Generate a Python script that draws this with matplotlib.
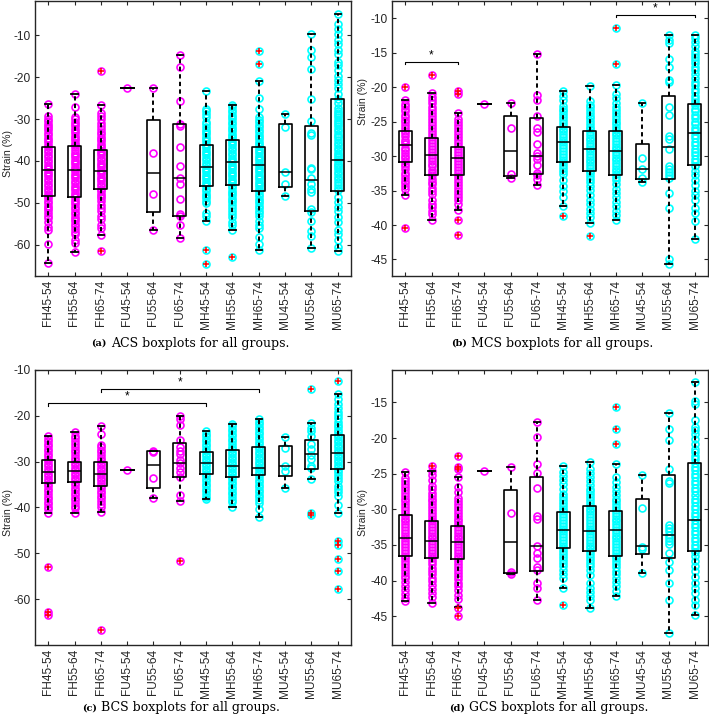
import numpy as np
import matplotlib
matplotlib.use('Agg')
import matplotlib.pyplot as plt

plt.rcParams['axes.unicode_minus'] = False
plt.rcParams['font.family'] = ['Liberation Sans', 'DejaVu Sans']

GROUPS = ['FH45-54', 'FH55-64', 'FH65-74', 'FU45-54', 'FU55-64', 'FU65-74',
          'MH45-54', 'MH55-64', 'MH65-74', 'MU45-54', 'MU55-64', 'MU65-74']

# ---------------- ACS ----------------
ACS_PTS = [
    [-26.3, -29.3, -29.9, -30.4, -31.1, -31.6, -32.2, -32.7, -33.4, -33.9, -34.5, -35.1, -35.6, -36.3,
     -36.8, -37.4, -37.9, -38.6, -39.1, -39.7, -40.2, -40.9, -41.4, -42.0, -42.6, -43.1, -43.7, -44.3,
     -44.8, -45.5, -46.0, -46.6, -47.1, -47.8, -48.3, -48.9, -49.5, -50.0, -50.7, -51.2, -51.8, -52.5,
     -53.1, -53.6, -54.6, -55.9, -56.6, -59.8, -64.4],
    [-23.9, -27.1, -29.5, -30.0, -30.6, -31.2, -31.7, -32.3, -32.9, -33.4, -34.0, -34.6, -35.1, -35.7,
     -36.3, -36.8, -37.4, -38.0, -38.5, -39.1, -39.7, -40.2, -40.8, -41.4, -41.9, -42.5, -43.1, -43.6,
     -44.2, -44.8, -45.3, -45.9, -46.5, -47.0, -47.6, -48.2, -48.7, -49.3, -49.9, -50.4, -51.0, -51.6,
     -52.1, -52.7, -53.3, -53.8, -54.4, -55.0, -55.6, -56.3, -57.0, -57.5, -58.9, -59.5, -61.8],
    [-18.5, -26.6, -28.6, -29.3, -30.1, -30.9, -31.6, -32.4, -33.0, -33.6, -34.2, -34.7, -35.3, -35.9,
     -36.4, -37.0, -37.6, -38.1, -38.7, -39.3, -39.8, -40.4, -41.0, -41.5, -42.1, -42.7, -43.2, -43.8,
     -44.4, -44.9, -45.5, -46.1, -46.6, -47.2, -47.8, -48.3, -48.9, -49.6, -50.6, -51.3, -52.0, -53.1,
     -53.8, -55.3, -56.1, -57.6, -61.5],
    [-22.7],
    [-22.6, -38.0, -47.8, -56.4],
    [-14.6, -17.6, -25.7, -31.2, -31.6, -36.8, -41.2, -44.1, -45.5, -49.2, -52.7, -53.2, -55.2, -58.4],
    [-23.4, -27.5, -28.1, -28.7, -29.6, -30.6, -31.3, -31.9, -32.5, -33.1, -33.6, -34.2, -34.8, -35.3,
     -35.9, -36.5, -37.0, -37.6, -38.2, -38.7, -39.3, -39.9, -40.4, -41.0, -41.6, -42.1, -42.7, -43.3,
     -43.8, -44.4, -45.0, -45.5, -46.1, -46.7, -47.2, -47.8, -48.4, -48.9, -49.5, -50.1, -52.4, -53.1,
     -54.4, -61.3, -64.6],
    [-26.6, -27.2, -27.8, -28.4, -29.0, -29.5, -30.1, -30.7, -31.2, -31.8, -32.4, -32.9, -33.5, -34.1,
     -34.6, -35.2, -35.8, -36.3, -36.9, -37.5, -38.0, -38.6, -39.2, -39.7, -40.3, -40.9, -41.4, -42.0,
     -42.6, -43.1, -43.7, -44.3, -44.8, -45.4, -46.0, -46.5, -47.1, -47.7, -48.2, -48.8, -49.4, -49.9,
     -50.5, -51.2, -51.9, -52.6, -53.4, -54.6, -55.2, -56.4, -63.0],
    [-13.8, -16.8, -20.9, -25.0, -27.6, -29.5, -30.2, -30.8, -31.4, -32.0, -32.5, -33.1, -33.7, -34.2,
     -34.8, -35.4, -35.9, -36.5, -37.1, -37.6, -38.2, -38.8, -39.3, -39.9, -40.5, -41.0, -41.6, -42.2,
     -42.7, -43.3, -43.9, -44.4, -45.0, -45.6, -46.1, -46.7, -47.3, -47.8, -48.4, -49.0, -49.5, -50.1,
     -50.7, -51.2, -51.9, -52.5, -53.2, -54.3, -55.3, -56.0, -58.1, -59.9, -61.2],
    [-28.9, -31.9, -42.6, -45.5, -48.4],
    [-9.6, -13.5, -15.2, -18.0, -25.2, -30.5, -33.3, -33.8, -41.6, -42.0, -44.1, -45.6, -46.8, -47.5,
     -51.5, -52.3, -54.4, -56.7, -57.9, -60.7],
    [-4.8, -7.2, -8.6, -9.8, -11.0, -12.0, -13.6, -14.4, -16.4, -17.2, -18.2, -19.6, -20.7, -21.7,
     -22.7, -23.9, -25.3, -26.2, -27.3, -28.0, -28.5, -29.0, -29.5, -30.3, -30.7, -31.1, -31.7, -32.3,
     -32.9, -33.5, -34.0, -34.4, -35.1, -35.7, -36.3, -36.9, -37.5, -38.1, -38.7, -39.1, -39.5, -40.1,
     -40.7, -41.1, -41.5, -42.0, -42.6, -43.2, -43.8, -44.4, -45.0, -45.8, -46.4, -47.0, -48.6, -49.8,
     -51.0, -52.0, -53.4, -54.6, -56.6, -57.4, -59.0, -60.5, -61.5],
]
ACS_HI = [-26.3, -23.9, -26.6, -22.7, -22.6, -14.6, -23.4, -26.6, -20.9, -28.9, -9.6, -4.8]
ACS_Q3 = [-36.8, -36.4, -37.5, -22.7, -30.3, -31.3, -36.3, -34.9, -36.6, -31.1, -31.6, -25.3]
ACS_MED = [-42.1, -42.1, -42.5, -22.7, -42.9, -44.2, -41.5, -40.2, -41.0, -42.6, -44.5, -39.7]
ACS_Q1 = [-48.5, -48.7, -46.6, -22.7, -52.1, -53.2, -46.0, -45.8, -47.2, -46.3, -52.0, -47.2]
ACS_LO = [-64.4, -61.8, -57.6, -22.7, -56.4, -58.4, -54.4, -56.4, -61.2, -48.4, -60.7, -61.5]

# ---------------- MCS ----------------
MCS_PTS = [
    [-20.0, -21.9, -22.4, -22.7, -23.2, -23.5, -24.0, -24.3, -24.8, -25.1, -25.5, -25.9, -26.4, -26.7,
     -27.1, -27.6, -27.9, -28.3, -28.8, -29.1, -29.5, -30.0, -30.3, -30.7, -31.2, -31.5, -31.9, -32.4,
     -32.7, -33.1, -33.6, -33.9, -34.3, -34.8, -35.6, -40.4],
    [-18.2, -20.8, -21.4, -21.9, -22.3, -22.8, -23.3, -23.7, -24.2, -24.6, -25.0, -25.5, -25.9, -26.3,
     -26.8, -27.2, -27.6, -28.1, -28.5, -28.9, -29.4, -29.8, -30.2, -30.7, -31.1, -31.5, -32.0, -32.4,
     -32.8, -33.3, -33.7, -34.1, -34.6, -35.0, -35.5, -36.4, -36.9, -37.4, -37.9, -38.4, -39.3],
    [-20.6, -21.0, -23.8, -24.6, -25.1, -25.5, -25.9, -26.4, -26.8, -27.2, -27.7, -28.1, -28.5, -29.0,
     -29.4, -29.8, -30.3, -30.7, -31.1, -31.6, -32.0, -32.4, -32.9, -33.3, -33.7, -34.2, -34.6, -35.0,
     -35.5, -35.9, -36.4, -36.9, -37.8, -39.3, -41.4],
    [-22.4],
    [-22.3, -25.9, -32.6, -33.1],
    [-15.1, -21.1, -21.8, -24.1, -25.9, -26.5, -28.2, -29.6, -30.0, -30.4, -31.3, -32.5, -32.8, -33.3,
     -34.2],
    [-20.5, -21.2, -21.8, -22.7, -23.1, -23.5, -23.9, -24.3, -24.7, -25.2, -25.6, -26.0, -26.4, -26.8,
     -27.2, -27.6, -28.0, -28.4, -28.8, -29.2, -29.7, -30.1, -30.5, -30.9, -31.3, -31.7, -32.1, -32.6,
     -33.4, -34.4, -35.1, -35.9, -37.2, -38.7],
    [-19.8, -22.0, -22.5, -22.9, -23.3, -23.7, -24.1, -24.5, -24.9, -25.3, -25.7, -26.1, -26.5, -26.9,
     -27.3, -27.7, -28.1, -28.5, -28.9, -29.3, -29.7, -30.1, -30.5, -30.9, -31.3, -31.7, -32.1, -32.5,
     -32.9, -33.3, -33.8, -34.3, -34.9, -35.6, -36.3, -36.9, -37.6, -38.2, -38.8, -39.7, -41.6],
    [-11.4, -16.6, -19.7, -21.0, -21.6, -22.3, -22.8, -23.3, -23.8, -24.2, -24.6, -25.0, -25.4, -25.8,
     -26.2, -26.6, -27.0, -27.4, -27.8, -28.2, -28.6, -29.0, -29.4, -29.8, -30.2, -30.6, -31.0, -31.4,
     -31.8, -32.2, -32.6, -33.0, -33.5, -34.1, -34.8, -35.3, -35.9, -36.6, -37.3, -38.0, -38.6, -39.3],
    [-22.3, -30.3, -31.8, -33.1, -33.7],
    [-12.4, -13.1, -13.6, -15.9, -17.0, -18.9, -19.3, -22.9, -24.0, -27.1, -27.5, -28.9, -31.4, -31.8,
     -32.3, -32.7, -33.1, -35.3, -37.5, -44.9, -45.7],
    [-12.4, -12.9, -13.4, -14.0, -14.7, -15.1, -15.6, -16.0, -16.5, -17.0, -17.5, -18.1, -18.6, -19.2,
     -19.7, -20.2, -20.7, -21.2, -21.7, -22.2, -22.6, -23.1, -23.5, -24.0, -24.5, -25.0, -25.4, -25.9,
     -26.4, -26.9, -27.4, -27.9, -28.4, -28.9, -29.4, -29.9, -30.4, -30.9, -31.5, -32.1, -32.8, -33.5,
     -34.2, -35.0, -35.7, -36.3, -37.5, -38.2, -39.4, -42.1],
]
MCS_HI = [-21.9, -20.8, -23.8, -22.4, -22.3, -15.1, -20.5, -19.8, -19.7, -22.3, -12.4, -12.4]
MCS_Q3 = [-26.4, -27.3, -28.6, -22.4, -24.1, -24.5, -25.8, -26.3, -26.4, -28.3, -21.3, -22.4]
MCS_MED = [-28.4, -29.9, -30.3, -22.4, -29.2, -30.0, -27.9, -28.9, -29.3, -31.8, -28.6, -26.7]
MCS_Q1 = [-30.8, -32.8, -32.7, -22.4, -32.85, -32.65, -30.9, -32.2, -32.8, -33.3, -33.3, -31.3]
MCS_LO = [-35.6, -39.3, -37.8, -22.4, -33.1, -34.2, -37.2, -39.7, -39.3, -33.7, -45.7, -42.1]

# ---------------- BCS ----------------
BCS_PTS = [
    [-24.4, -25.0, -25.5, -26.1, -26.6, -27.2, -27.7, -28.3, -28.8, -29.4, -29.9, -30.5, -31.0, -31.6,
     -32.1, -32.7, -33.2, -33.8, -34.3, -34.9, -35.4, -36.0, -36.5, -37.1, -37.6, -38.2, -38.7, -39.3,
     -39.8, -40.4, -41.2, -53.0, -62.7, -63.4],
    [-23.6, -24.3, -24.9, -25.6, -26.2, -26.9, -27.4, -28.0, -28.5, -29.1, -29.6, -30.2, -30.7, -31.3,
     -31.8, -32.4, -32.9, -33.5, -34.0, -34.6, -35.1, -35.7, -36.2, -36.8, -37.3, -37.9, -38.4, -39.0,
     -39.6, -40.2, -41.2],
    [-22.3, -24.0, -26.4, -26.9, -27.5, -28.0, -28.6, -29.1, -29.7, -30.2, -30.8, -31.3, -31.9, -32.4,
     -33.0, -33.5, -34.1, -34.6, -35.2, -35.7, -36.3, -36.8, -37.4, -37.9, -38.5, -39.3, -40.0, -40.9,
     -66.8],
    [-31.9],
    [-27.6, -27.8, -33.6, -38.0],
    [-20.1, -20.6, -22.0, -25.2, -26.8, -27.6, -28.3, -29.7, -30.4, -31.3, -32.2, -33.3, -37.3, -38.6,
     -51.6],
    [-23.3, -23.9, -24.4, -25.0, -25.5, -26.1, -26.6, -27.2, -27.7, -28.3, -28.8, -29.4, -29.9, -30.5,
     -31.0, -31.6, -32.1, -32.7, -33.2, -33.8, -34.3, -34.9, -35.4, -36.0, -36.5, -37.1, -37.6, -38.2],
    [-21.7, -22.3, -22.8, -23.4, -23.9, -24.5, -25.0, -25.6, -26.1, -26.7, -27.2, -27.8, -28.3, -28.9,
     -29.4, -30.0, -30.5, -31.1, -31.6, -32.2, -32.7, -33.3, -33.8, -34.4, -34.9, -35.5, -36.0, -36.6,
     -37.1, -37.7, -38.3, -38.9, -39.9],
    [-20.7, -21.3, -21.8, -22.4, -22.9, -23.5, -24.0, -24.6, -25.1, -25.7, -26.2, -26.8, -27.3, -27.9,
     -28.4, -29.0, -29.5, -30.1, -30.6, -31.2, -31.7, -32.3, -32.8, -33.4, -33.9, -34.5, -35.0, -35.6,
     -36.1, -36.7, -37.2, -37.8, -38.4, -39.0, -40.4, -42.0],
    [-24.6, -27.1, -31.0, -32.1, -35.8],
    [-14.2, -21.6, -22.6, -23.3, -24.5, -26.1, -27.3, -28.6, -29.4, -30.9, -31.3, -33.8, -41.1, -41.7],
    [-12.4, -15.3, -16.4, -17.4, -18.3, -19.2, -19.8, -20.5, -21.3, -21.9, -22.4, -23.0, -23.5, -24.1,
     -24.6, -25.2, -25.7, -26.3, -26.8, -27.4, -27.9, -28.5, -29.0, -29.6, -30.1, -30.7, -31.2, -31.8,
     -32.3, -32.9, -33.5, -34.2, -35.4, -35.9, -36.6, -37.4, -39.5, -41.3, -47.4, -48.1, -51.2, -53.8,
     -57.7],
]
BCS_HI = [-24.4, -23.6, -22.3, -31.9, -27.6, -20.1, -23.3, -21.7, -20.7, -24.6, -21.6, -15.3]
BCS_Q3 = [-29.7, -30.05, -30.05, -31.9, -27.7, -25.9, -27.9, -27.45, -26.9, -26.6, -25.3, -24.2]
BCS_MED = [-32.3, -32.1, -32.7, -31.9, -30.7, -30.2, -30.35, -30.85, -31.4, -31.0, -28.3, -28.2]
BCS_Q1 = [-34.7, -34.5, -35.3, -31.9, -35.8, -33.4, -32.65, -33.45, -33.0, -33.05, -31.6, -31.7]
BCS_LO = [-41.2, -41.2, -40.9, -31.9, -38.0, -38.6, -38.2, -39.9, -42.0, -35.8, -33.8, -41.3]

# ---------------- GCS ----------------
GCS_PTS = [
    [-24.7, -25.6, -26.1, -26.5, -26.9, -27.3, -27.7, -28.1, -28.5, -28.9, -29.3, -29.7, -30.1, -30.5,
     -30.9, -31.3, -31.7, -32.1, -32.5, -32.9, -33.3, -33.7, -34.1, -34.5, -34.9, -35.3, -35.7, -36.1,
     -36.5, -36.9, -37.3, -37.7, -38.1, -38.5, -38.9, -39.3, -39.7, -40.2, -40.7, -41.3, -41.9, -42.4,
     -42.9],
    [-23.9, -24.6, -25.2, -25.9, -26.7, -27.2, -27.7, -28.1, -28.5, -28.9, -29.3, -29.7, -30.1, -30.5,
     -30.9, -31.3, -31.7, -32.1, -32.5, -32.9, -33.3, -33.7, -34.1, -34.5, -34.9, -35.3, -35.7, -36.1,
     -36.5, -36.9, -37.3, -37.7, -38.2, -38.6, -39.1, -39.6, -40.1, -40.6, -41.2, -41.7, -42.3, -43.2],
    [-22.5, -24.1, -24.4, -25.5, -26.9, -27.6, -28.4, -28.9, -29.3, -29.7, -30.1, -30.5, -30.9, -31.3,
     -31.7, -32.1, -32.5, -32.9, -33.3, -33.7, -34.1, -34.5, -34.9, -35.3, -35.7, -36.1, -36.5, -36.9,
     -37.3, -37.7, -38.1, -38.5, -38.9, -39.3, -39.8, -40.3, -40.8, -41.4, -42.0, -42.6, -43.8, -45.0],
    [-24.65],
    [-24.0, -30.5, -38.8, -39.1],
    [-17.7, -19.9, -23.7, -24.9, -27.0, -31.0, -31.4, -35.1, -36.1, -36.9, -38.1, -38.5, -40.3, -41.1,
     -42.8],
    [-23.9, -24.7, -25.3, -25.9, -26.5, -27.2, -27.8, -28.3, -28.7, -29.1, -29.5, -29.9, -30.3, -30.7,
     -31.1, -31.5, -31.9, -32.3, -32.7, -33.1, -33.5, -33.9, -34.3, -34.7, -35.1, -35.5, -35.9, -36.3,
     -36.7, -37.1, -37.5, -38.0, -38.5, -39.1, -39.7, -41.0, -43.4],
    [-23.4, -24.3, -24.9, -25.5, -26.1, -26.6, -27.1, -27.5, -27.9, -28.3, -28.7, -29.1, -29.5, -29.9,
     -30.3, -30.7, -31.1, -31.5, -31.9, -32.3, -32.7, -33.1, -33.5, -33.9, -34.3, -34.7, -35.1, -35.5,
     -35.9, -36.3, -36.7, -37.1, -37.5, -38.0, -38.5, -39.2, -40.3, -41.0, -41.6, -42.2, -42.8, -43.8],
    [-15.6, -18.7, -20.9, -23.6, -25.5, -26.2, -26.9, -27.5, -28.0, -28.5, -28.9, -29.3, -29.7, -30.1,
     -30.5, -30.9, -31.3, -31.7, -32.1, -32.5, -32.9, -33.3, -33.7, -34.1, -34.5, -34.9, -35.3, -35.7,
     -36.1, -36.5, -36.9, -37.3, -37.7, -38.1, -38.6, -39.1, -39.6, -40.2, -40.8, -41.5, -42.2],
    [-25.2, -29.8, -35.3, -35.6, -38.9],
    [-16.5, -18.7, -20.3, -24.4, -26.1, -26.3, -32.2, -32.6, -33.1, -33.6, -34.1, -34.5, -34.9, -36.2,
     -37.4, -38.5, -40.3, -42.8, -47.3],
    [-12.2, -14.8, -15.2, -17.5, -18.4, -18.9, -19.5, -20.2, -20.9, -21.5, -22.0, -22.5, -23.0, -23.5,
     -24.0, -24.5, -25.0, -25.5, -26.0, -26.5, -27.0, -27.5, -28.0, -28.5, -29.0, -29.5, -30.0, -30.5,
     -31.0, -31.5, -32.0, -32.5, -33.0, -33.5, -34.0, -34.5, -35.0, -35.5, -36.0, -36.6, -37.3, -38.0,
     -38.7, -39.5, -40.3, -41.0, -41.8, -42.7, -43.5, -44.9],
]
GCS_HI = [-24.7, -24.6, -25.5, -24.65, -24.0, -17.7, -23.9, -23.4, -23.6, -25.2, -16.5, -12.2]
GCS_Q3 = [-30.8, -31.7, -32.35, -24.65, -27.3, -25.4, -30.4, -29.6, -30.3, -28.6, -25.2, -23.5]
GCS_MED = [-34.0, -34.4, -34.55, -24.65, -34.65, -35.1, -32.9, -33.1, -32.9, -35.15, -33.65, -31.5]
GCS_Q1 = [-36.5, -36.85, -37.0, -24.65, -38.95, -38.6, -35.5, -35.85, -36.5, -36.3, -36.8, -35.9]
GCS_LO = [-42.9, -43.2, -43.75, -24.65, -39.1, -42.8, -41.0, -43.8, -42.2, -38.9, -47.3, -44.9]

# significance brackets: (first group, last group, height)
MCS_SIG = [(1, 3, -16.3), (9, 12, -9.5)]
BCS_SIG = [(1, 7, -17.25), (3, 9, -14.15)]

TXT = '#262626'
W, H = 709, 722


def draw_panel(ax, pts, lo, q1, med, q3, hi, ylim, yticks, sig, drop):
    pos = np.arange(1, len(GROUPS) + 1)
    for i, vals in enumerate(pts):
        col = '#ff00ff' if GROUPS[i][0] == 'F' else '#00ffff'
        ax.plot(np.full(len(vals), pos[i]), vals, 'o', mfc='none', mec=col,
                ms=5.0, mew=1.2, zorder=1)

    stats = []
    for i in range(len(GROUPS)):
        stats.append(dict(med=med[i], q1=q1[i], q3=q3[i],
                          whislo=lo[i], whishi=hi[i], fliers=[]))
    ax.bxp(stats, positions=pos, widths=0.5, capwidths=0.25, showfliers=False,
           manage_ticks=False, zorder=2,
           boxprops=dict(color='k', lw=1.2),
           whiskerprops=dict(color='k', lw=1.4, linestyle=(0, (2.2, 1.7))),
           capprops=dict(color='k', lw=1.3),
           medianprops=dict(color='k', lw=1.1))

    # outliers: points beyond the whiskers
    for i, vals in enumerate(pts):
        out = [v for v in vals if v > hi[i] + 1e-9 or v < lo[i] - 1e-9]
        if out:
            ax.plot(np.full(len(out), pos[i]), out, '+', color='#ff0000',
                    ms=4.5, mew=1.1, zorder=4)

    for a, b, y in sig:
        ax.plot([a, a, b, b], [y - drop, y, y, y - drop], color='k', lw=0.8, zorder=3)
        ax.text((a + b) / 2, y + drop * 0.3, '*', ha='center', va='bottom',
                fontsize=8.5, color='k')

    ax.set_xlim(0.5, len(GROUPS) + 0.5)
    ax.set_ylim(*ylim)
    ax.set_xticks(pos)
    ax.set_xticklabels(GROUPS, rotation=90)
    ax.set_yticks(yticks)
    ax.set_yticklabels([str(t) for t in yticks])
    ax.tick_params(direction='in', length=3, width=0.8, top=True, right=True,
                   labelsize=8.6, colors=TXT, pad=3)
    for s in ax.spines.values():
        s.set_color(TXT)
        s.set_linewidth(1.0)
    ax.set_ylabel('Strain (%)', fontsize=7.6, color=TXT)


def add_axes(fig, x0, x1, y0, y1):
    return fig.add_axes([x0 / W, 1 - y1 / H, (x1 - x0) / W, (y1 - y0) / H])


def caption(fig, xr, xl, y, tag, text):
    fig.text(xr / W, 1 - y / H, tag, ha='right', va='center', fontsize=7,
             fontweight='bold', family='DejaVu Serif', color='k')
    fig.text(xl / W, 1 - y / H, text, ha='left', va='center', fontsize=9.0,
             family='DejaVu Serif', color='k')


fig = plt.figure(figsize=(W / 100, H / 100), dpi=100)

ax_a = add_axes(fig, 35, 351, 1, 276)
draw_panel(ax_a, ACS_PTS, ACS_LO, ACS_Q1, ACS_MED, ACS_Q3, ACS_HI,
           (-67.5, -1.8), [-60, -50, -40, -30, -20, -10], [], 0)
ax_a.yaxis.set_label_coords(-0.070, 0.447)

ax_b = add_axes(fig, 392, 708, 0.5, 276)
draw_panel(ax_b, MCS_PTS, MCS_LO, MCS_Q1, MCS_MED, MCS_Q3, MCS_HI,
           (-47.4, -7.4), [-45, -40, -35, -30, -25, -20, -15, -10], MCS_SIG, 0.35)
ax_b.yaxis.set_label_coords(-0.076, 0.632)

ax_c = add_axes(fig, 35, 351, 370, 645)
draw_panel(ax_c, BCS_PTS, BCS_LO, BCS_Q1, BCS_MED, BCS_Q3, BCS_HI,
           (-70, -10), [-60, -50, -40, -30, -20, -10], BCS_SIG, 0.6)
ax_c.yaxis.set_label_coords(-0.070, 0.48)

ax_d = add_axes(fig, 392, 708, 370, 645)
draw_panel(ax_d, GCS_PTS, GCS_LO, GCS_Q1, GCS_MED, GCS_Q3, GCS_HI,
           (-49.05, -10.45), [-45, -40, -35, -30, -25, -20, -15], [], 0)
ax_d.yaxis.set_label_coords(-0.076, 0.48)

caption(fig, 107, 111, 343, '(a)', 'ACS boxplots for all groups.')
caption(fig, 467, 471, 343, '(b)', 'MCS boxplots for all groups.')
caption(fig, 97, 101, 708, '(c)', 'BCS boxplots for all groups.')
caption(fig, 465, 469, 708, '(d)', 'GCS boxplots for all groups.')

fig.savefig('out.png', dpi=100)
